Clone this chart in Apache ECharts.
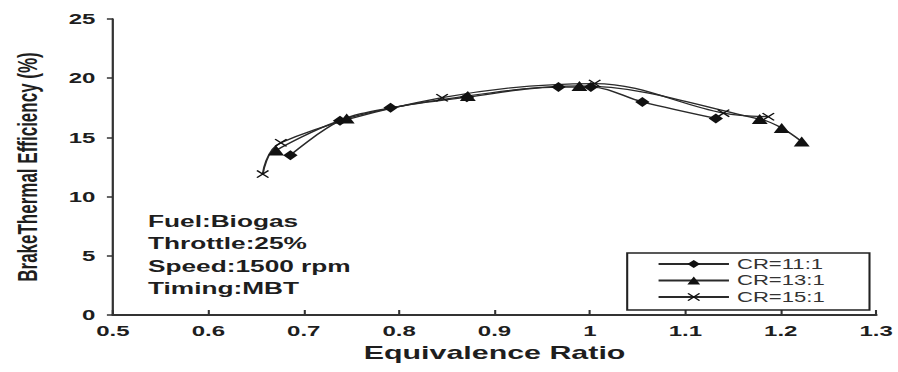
<!DOCTYPE html>
<html>
<head>
<meta charset="utf-8">
<script src="https://cdn.jsdelivr.net/npm/echarts@6/dist/echarts.min.js"></script>
<style>
  html, body { margin: 0; padding: 0; background: #fff; }
  #frame { width: 898px; height: 372px; overflow: hidden; background: #fff; }
  /* the figure is laid out narrow and widened horizontally, like the printed plate */
  #chart { width: 561.25px; height: 372px; transform: scaleX(1.6); transform-origin: 0 0; }
</style>
</head>
<body>
<div id="frame"><div id="chart"></div></div>
<script>
// Brake thermal efficiency vs equivalence ratio for three compression ratios
const seriesNames = ['CR=11:1', 'CR=13:1', 'CR=15:1'];

const cr11Phi = [0.686, 0.738, 0.791, 0.871, 0.967, 1.001, 1.055, 1.132];
const cr11Eff = [13.5, 16.4, 17.5, 18.4, 19.25, 19.25, 18.0, 16.6];

const cr13Phi = [0.671, 0.745, 0.872, 0.989, 1.178, 1.201, 1.222];
const cr13Eff = [13.9, 16.6, 18.5, 19.35, 16.55, 15.8, 14.65];

const cr15Phi = [0.657, 0.676, 0.845, 1.005, 1.140, 1.187];
const cr15Eff = [11.9, 14.55, 18.35, 19.55, 17.05, 16.75];

const xTicks = { min: 0.5, max: 1.3, step: 0.1 };
const yTicks = { min: 0, max: 25, step: 5 };

const notes = ['Fuel:Biogas', 'Throttle:25%', 'Speed:1500 rpm', 'Timing:MBT'];

const pairs = (xs, ys) => xs.map((x, i) => [x, ys[i]]);

const crossPath = 'path://M0,1L1,0L10,9L9,10ZM9,0L10,1L1,10L0,9Z';
const ink = '#1e1e1e';
const fontMain = 'Liberation Sans, Arial, sans-serif';

function makeSeries(name, data, symbol, size) {
  return {
    name: name,
    type: 'line',
    data: data,
    smooth: 0.35,
    symbol: symbol,
    symbolSize: size,
    showSymbol: true,
    lineStyle: { color: '#2a2a2a', width: 1.3 },
    itemStyle: { color: '#111', borderWidth: 0 },
    z: 3
  };
}

const chart = echarts.init(document.getElementById('chart'), null, { renderer: 'svg' });
chart.setOption({
  animation: false,
  backgroundColor: '#fff',
  grid: { left: 70.6, right: 10, top: 19, bottom: 57 },
  xAxis: {
    type: 'value',
    min: xTicks.min, max: xTicks.max, interval: xTicks.step,
    name: 'Equivalence Ratio',
    nameLocation: 'middle',
    nameGap: 27,
    nameTextStyle: { fontFamily: fontMain, fontWeight: 'bold', fontSize: 19, color: ink },
    axisLine: { lineStyle: { color: '#333', width: 2 } },
    axisTick: { inside: true, length: 5, lineStyle: { color: '#333', width: 1.3 } },
    axisLabel: { fontFamily: fontMain, fontWeight: 'bold', fontSize: 15, color: ink, margin: 8 },
    splitLine: { show: false }
  },
  yAxis: {
    type: 'value',
    min: yTicks.min, max: yTicks.max, interval: yTicks.step,
    name: 'BrakeThermal Efficiency (%)',
    nameLocation: 'middle',
    nameGap: 45,
    nameRotate: 90,
    nameTextStyle: { fontFamily: fontMain, fontWeight: 'bold', fontSize: 17, color: ink },
    axisLine: { show: true, lineStyle: { color: '#333', width: 1.4 } },
    axisTick: { show: true, length: 3.8, lineStyle: { color: '#333', width: 1.5 } },
    axisLabel: { fontFamily: fontMain, fontWeight: 'bold', fontSize: 15, color: ink, margin: 11 },
    splitLine: { show: false }
  },
  legend: {
    orient: 'vertical',
    left: 392, top: 253,
    padding: [4, 28, 6, 18.6],
    itemGap: 2.5,
    itemWidth: 44,
    itemHeight: 10,
    borderColor: '#222',
    borderWidth: 1.3,
    backgroundColor: '#fff',
    textStyle: { fontFamily: fontMain, fontSize: 13.8, color: '#333', padding: [0, 0, 0, 0] },
    data: seriesNames
  },
  graphic: notes.map((t, i) => ({
    type: 'text',
    x: 92.5,
    y: 221 + i * 22.5,
    style: { text: t, fontFamily: fontMain, fontWeight: 'bold', fontSize: 16.4, fill: ink, verticalAlign: 'middle' }
  })),
  series: [
    makeSeries(seriesNames[0], pairs(cr11Phi, cr11Eff), 'diamond', [9, 10]),
    makeSeries(seriesNames[1], pairs(cr13Phi, cr13Eff), 'triangle', [10, 10]),
    makeSeries(seriesNames[2], pairs(cr15Phi, cr15Eff), crossPath, [8, 8])
  ]
});
</script>
</body>
</html>
